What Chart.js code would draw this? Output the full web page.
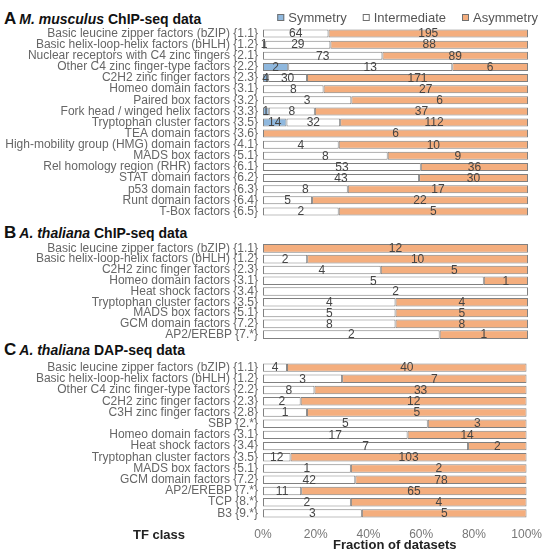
<!DOCTYPE html>
<html>
<head>
<meta charset="utf-8">
<script src="https://cdn.jsdelivr.net/npm/chart.js@4.4.1/dist/chart.umd.min.js"></script>
<style>
  body { margin: 0; background: #fff; font-family: "Liberation Sans", Arial, sans-serif; }
  #wrap { position: relative; width: 550px; height: 558px; overflow: hidden; }
  canvas { position: absolute; left: 0; }
  .ptitle { position: absolute; left: 4px; font-weight: bold; font-size: 14px; color: #111; white-space: nowrap; }
  .ptitle b { font-size: 17px; margin-right: 3px; }
</style>
</head>
<body>
<div id="wrap">
  <div class="ptitle" style="top:9px"><b>A</b><i>M. musculus</i> ChIP-seq data</div>
  <div class="ptitle" style="top:223px"><b>B</b><i>A. thaliana</i> ChIP-seq data</div>
  <div class="ptitle" style="top:340px"><b>C</b><i>A. thaliana</i> DAP-seq data</div>
  <canvas id="chartA" width="550" height="231" style="top:0"></canvas>
  <canvas id="chartB" width="550" height="125" style="top:229px"></canvas>
  <canvas id="chartC" width="550" height="211" style="top:348px"></canvas>
</div>
<script>
// series names and colours
const seriesNames = ['Symmetry', 'Intermediate', 'Asymmetry'];
const seriesColors = ['#8fb8de', '#ffffff', '#f4ae7e'];

// A: M. musculus ChIP-seq
const labelsA = [
  'Basic leucine zipper factors (bZIP) {1.1}',
  'Basic helix-loop-helix factors (bHLH) {1.2}',
  'Nuclear receptors with C4 zinc fingers {2.1}',
  'Other C4 zinc finger-type factors {2.2}',
  'C2H2 zinc finger factors {2.3}',
  'Homeo domain factors {3.1}',
  'Paired box factors {3.2}',
  'Fork head / winged helix factors {3.3}',
  'Tryptophan cluster factors {3.5}',
  'TEA domain factors {3.6}',
  'High-mobility group (HMG) domain factors {4.1}',
  'MADS box factors {5.1}',
  'Rel homology region (RHR) factors {6.1}',
  'STAT domain factors {6.2}',
  'p53 domain factors {6.3}',
  'Runt domain factors {6.4}',
  'T-Box factors {6.5}'
];
const symA = [0, 1, 0, 2, 4, 0, 0, 1, 14, 0, 0, 0, 0, 0, 0, 0, 0];
const intA = [64, 29, 73, 13, 30, 8, 3, 8, 32, 0, 4, 8, 53, 43, 8, 5, 2];
const asyA = [195, 88, 89, 6, 171, 27, 6, 37, 112, 6, 10, 9, 36, 30, 17, 22, 5];

// B: A. thaliana ChIP-seq
const labelsB = [
  'Basic leucine zipper factors (bZIP) {1.1}',
  'Basic helix-loop-helix factors (bHLH) {1.2}',
  'C2H2 zinc finger factors {2.3}',
  'Homeo domain factors {3.1}',
  'Heat shock factors {3.4}',
  'Tryptophan cluster factors {3.5}',
  'MADS box factors {5.1}',
  'GCM domain factors {7.2}',
  'AP2/EREBP {7.*}'
];
const symB = [0, 0, 0, 0, 0, 0, 0, 0, 0];
const intB = [0, 2, 4, 5, 2, 4, 5, 8, 2];
const asyB = [12, 10, 5, 1, 0, 4, 5, 8, 1];

// C: A. thaliana DAP-seq
const labelsC = [
  'Basic leucine zipper factors (bZIP) {1.1}',
  'Basic helix-loop-helix factors (bHLH) {1.2}',
  'Other C4 zinc finger-type factors {2.2}',
  'C2H2 zinc finger factors {2.3}',
  'C3H zinc finger factors {2.8}',
  'SBP {2.*}',
  'Homeo domain factors {3.1}',
  'Heat shock factors {3.4}',
  'Tryptophan cluster factors {3.5}',
  'MADS box factors {5.1}',
  'GCM domain factors {7.2}',
  'AP2/EREBP {7.*}',
  'TCP {8.*}',
  'B3 {9.*}'
];
const symC = [0, 0, 0, 0, 0, 0, 0, 0, 0, 0, 0, 0, 0, 0];
const intC = [4, 3, 8, 2, 1, 5, 17, 7, 12, 1, 42, 11, 2, 3];
const asyC = [40, 7, 33, 12, 5, 3, 14, 2, 103, 2, 78, 65, 4, 5];

const xTicks = [0, 20, 40, 60, 80, 100];
const FONT = '"Liberation Sans", Arial, sans-serif';

// draws the raw counts in the middle of each segment
const countLabels = {
  id: 'countLabels',
  afterDatasetsDraw(chart) {
    const ctx = chart.ctx;
    ctx.save();
    ctx.font = '12px ' + FONT;
    ctx.fillStyle = '#444';
    ctx.textAlign = 'center';
    ctx.textBaseline = 'middle';
    chart.data.datasets.forEach((ds, i) => {
      chart.getDatasetMeta(i).data.forEach((bar, j) => {
        const n = ds.counts[j];
        if (!n) return;
        const left = Math.min(bar.x, bar.base);
        const right = Math.max(bar.x, bar.base);
        ctx.fillText(n, (left + right) / 2, bar.y + 0.5);
      });
    });
    ctx.restore();
  }
};

// legend row above panel A, right aligned to the plot
const topLegend = {
  id: 'topLegend',
  afterDraw(chart) {
    const ctx = chart.ctx;
    const y = 17.5;
    ctx.save();
    ctx.font = '13px ' + FONT;
    ctx.textBaseline = 'middle';
    const box = 7, gapIn = 4, gapOut = 16;
    const items = chart.data.datasets.map(ds => ({
      text: ds.label, color: ds.backgroundColor, w: ctx.measureText(ds.label).width
    }));
    let total = items.reduce((s, it) => s + box + gapIn + it.w, 0) + gapOut * (items.length - 1);
    let x = 538 - total;
    items.forEach(it => {
      ctx.fillStyle = it.color;
      ctx.fillRect(x, y - box / 2, box, box);
      ctx.strokeStyle = '#707070';
      ctx.lineWidth = 1;
      ctx.strokeRect(x + 0.5, y - box / 2 + 0.5, box - 1, box - 1);
      ctx.fillStyle = '#555';
      ctx.fillText(it.text, x + box + gapIn, y + 0.5);
      x += box + gapIn + it.w + gapOut;
    });
    ctx.restore();
  }
};

// TF class caption to the left of the x axis title
const tfClass = {
  id: 'tfClass',
  afterDraw(chart) {
    const ctx = chart.ctx;
    ctx.save();
    ctx.font = 'bold 13px ' + FONT;
    ctx.fillStyle = '#222';
    ctx.textAlign = 'center';
    ctx.textBaseline = 'middle';
    ctx.fillText('TF class', 159, chart.chartArea.bottom + 16);
    ctx.restore();
  }
};

function makeChart(id, labels, sym, int, asy, opts) {
  const groups = [sym, int, asy];
  const totals = labels.map((_, j) => sym[j] + int[j] + asy[j]);
  const datasets = groups.map((arr, i) => ({
    label: seriesNames[i],
    counts: arr,
    data: arr.map((v, j) => v / totals[j] * 100),
    backgroundColor: seriesColors[i],
    borderColor: '#808080',
    borderWidth: 1,
    borderSkipped: false,
    barPercentage: 1,
    categoryPercentage: opts.catPct
  }));
  const extra = [countLabels];
  if (opts.legend) extra.push(topLegend);
  if (opts.showX) extra.push(tfClass);
  return new Chart(document.getElementById(id), {
    type: 'bar',
    data: { labels, datasets },
    plugins: extra,
    options: {
      indexAxis: 'y',
      responsive: false,
      animation: false,
      layout: {
        autoPadding: false,
        padding: { left: 0, right: 22, top: opts.padTop, bottom: opts.padBottom }
      },
      scales: {
        x: {
          stacked: true,
          min: 0,
          max: 100,
          display: !!opts.showX,
          grid: { display: false, drawTicks: false },
          border: { display: false },
          ticks: {
            stepSize: 20,
            padding: 8,
            color: '#777',
            font: { size: 12, family: FONT },
            callback: v => xTicks.includes(v) ? v + '%' : ''
          },
          title: {
            display: !!opts.showX,
            text: 'Fraction of datasets',
            color: '#222',
            font: { size: 13, weight: 'bold', family: FONT },
            padding: { top: 0, bottom: 6 }
          },
          afterFit(scale) { if (opts.showX) scale.height = 40; }
        },
        y: {
          stacked: true,
          grid: { display: false, drawTicks: false },
          border: { display: false },
          ticks: {
            padding: 5,
            autoSkip: false,
            color: '#666',
            font: { size: 12, family: FONT }
          },
          afterFit(scale) { scale.width = 263; }
        }
      },
      plugins: {
        legend: { display: false },
        tooltip: { enabled: false }
      }
    }
  });
}

makeChart('chartA', labelsA, symA, intA, asyA, { legend: true, padTop: 28, padBottom: 14, catPct: 0.72 });
makeChart('chartB', labelsB, symB, intB, asyB, { padTop: 14, padBottom: 14, catPct: 0.8 });
makeChart('chartC', labelsC, symC, intC, asyC, { showX: true, padTop: 14, padBottom: 0, catPct: 0.75 });
</script>
</body>
</html>
